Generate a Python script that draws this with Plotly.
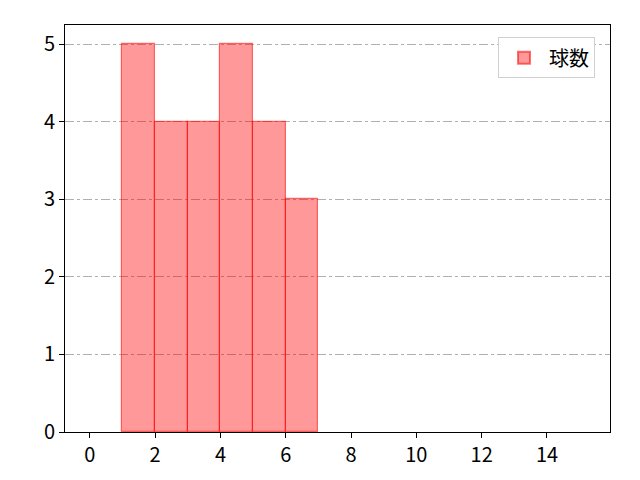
import plotly.graph_objects as go

bin_left = [1, 2, 3, 4, 5, 6]
counts = [5, 4, 4, 5, 4, 3]
series_name = "球数"
x_ticks = [0, 2, 4, 6, 8, 10, 12, 14]
y_ticks = [0, 1, 2, 3, 4, 5]

font = "Noto Sans CJK JP"

fig = go.Figure()
fig.add_trace(go.Bar(
    x=[b + 0.5 for b in bin_left],
    y=counts,
    width=1,
    name=series_name,
    marker=dict(color="rgba(255,0,0,0.4)", line=dict(color="rgba(255,0,0,0.55)", width=1.2)),
    showlegend=True,
))

axis_common = dict(
    showline=True, linecolor="black", linewidth=1, mirror=True,
    ticks="outside", ticklen=5, tickcolor="black", tickwidth=1,
    tickfont=dict(family=font, size=20, color="black"),
    zeroline=False,
)

fig.update_layout(
    width=640, height=480,
    margin=dict(l=57, r=38, t=17, b=56),
    paper_bgcolor="white", plot_bgcolor="white",
    font=dict(family=font, color="black"),
    bargap=0,
    xaxis=dict(range=[-0.76, 15.93], tickvals=x_ticks, showgrid=False, **axis_common),
    yaxis=dict(range=[0, 5.245], tickvals=y_ticks, showgrid=True,
               gridcolor="#b0b0b0", griddash="dashdot", gridwidth=1, **axis_common),
    legend=dict(
        x=0.9725, y=0.97, xanchor="right", yanchor="top",
        bgcolor="white", bordercolor="#d0d0d0", borderwidth=1,
        font=dict(family=font, size=20, color="black"),
        itemsizing="constant", itemwidth=40,
    ),
)

fig.write_html("out.html")
